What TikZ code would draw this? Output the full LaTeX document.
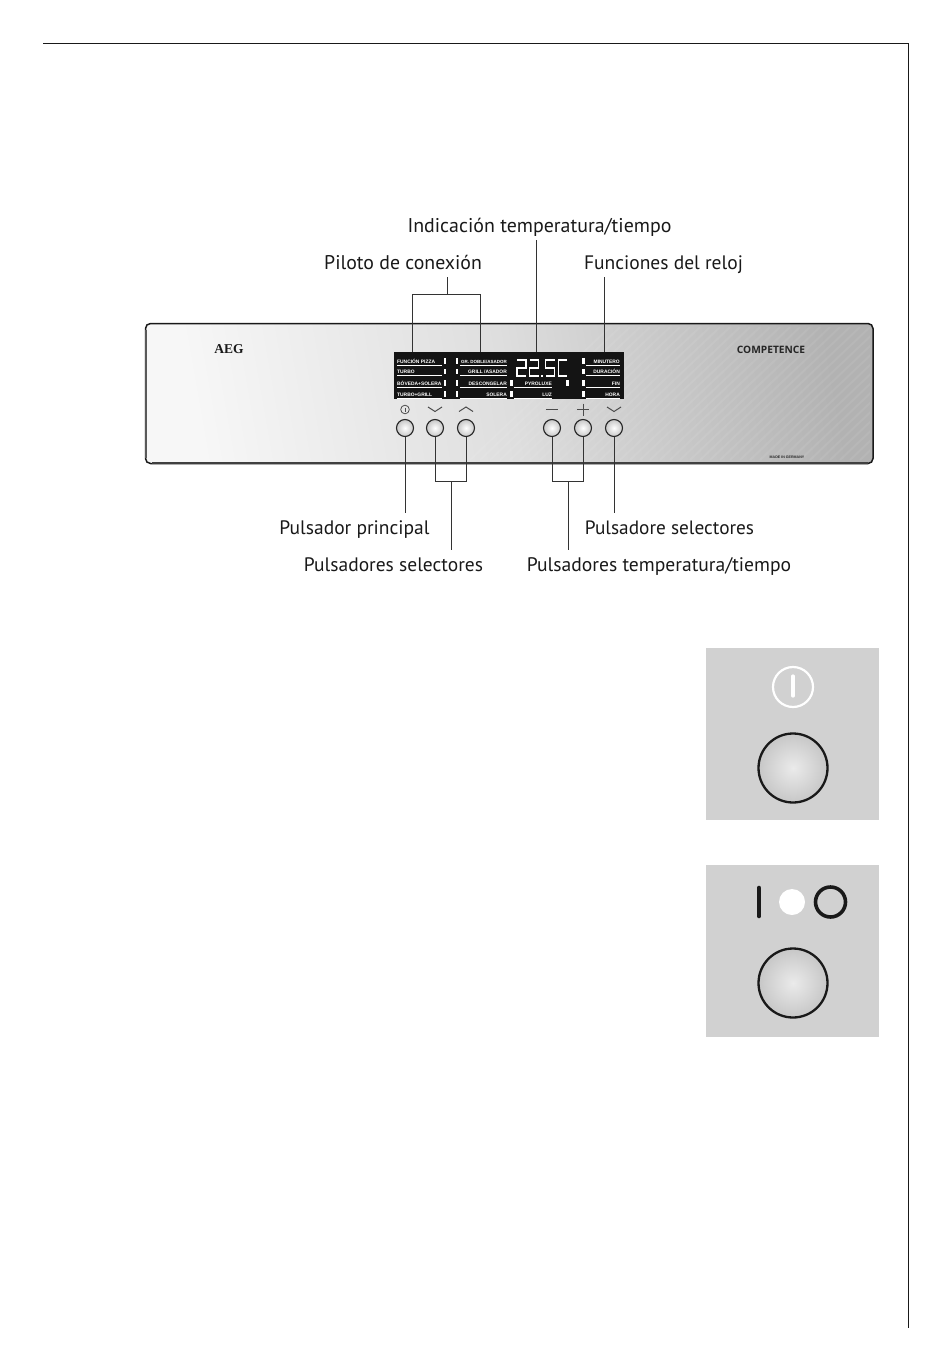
\documentclass[tikz,border=0pt]{standalone}
\usepackage{fontspec}
\setmainfont{PT Sans}
\newfontfamily\panelfont{Liberation Sans}
\newfontfamily\logofont{Liberation Serif}
\newfontfamily\brandfont{Open Sans}
\begin{document}
\begin{tikzpicture}[x=1pt,y=-1pt,
  lead/.style={line width=0.95pt,draw=black!80},
  lbl/.style={font=\fontsize{19.5}{22}\selectfont,text=black!90,inner sep=0pt,anchor=base},
  pbtn/.style={circle,draw=black!85,line width=1.15pt,minimum size=17pt,inner sep=0pt,inner color=white,outer color=black!22},
  bigbtn/.style={circle,draw=black!90,line width=2.3pt,minimum size=69pt,inner sep=0pt,inner color=white!92!black,outer color=black!22},
  disp/.style={font=\panelfont\bfseries\fontsize{4.9}{6}\selectfont,text=white,inner sep=0pt,anchor=base},
  uline/.style={draw=white,line width=0.8pt},
  led/.style={fill=white,draw=none},
  seg/.style={draw=white,line width=1.8pt,line join=miter},
  sym/.style={draw=black!70,line width=1pt},
  tile/.style={fill=black!18,draw=none}]
\useasboundingbox (0,0) rectangle (950,1372);
% page frame
\coordinate (fa) at (43,44); \coordinate (fb) at (908,44); \coordinate (fc) at (908,1328);
\draw[line width=1pt,black!90] (fa) -- (fb) -- (fc);
% panel
\path[left color=white!97!black,right color=black!30,middle color=black!13,rounded corners=5pt,shading angle=100]
  (146,324) rectangle (873,464);
\begin{scope}
 \clip (150,327) rectangle (870,460);
 \foreach \i in {0,...,40}{
   \draw[white,opacity=0.07,line width=2pt] (470+\i*10,460) -- (610+\i*10,327);
 }
\end{scope}
\draw[black!90,line width=1.5pt,rounded corners=5pt] (145.5,323.5) rectangle (873,463.5);
\draw[black!65,line width=2.4pt] (146,330) -- (146,458);
\draw[black!75,line width=1.8pt] (152,463) -- (868,463);
\node[font=\logofont\bfseries\fontsize{13.5}{14}\selectfont,text=black!90,inner sep=0pt] (aeg) at (229,349) {AEG};
\node[font=\brandfont\fontsize{10.2}{12}\selectfont,text=black!85,inner sep=0pt] (comp) at (771,349.5) {\textbf{COMPETENCE}};
\node[font=\panelfont\bfseries\fontsize{3.6}{4}\selectfont,text=black!85,inner sep=0pt] (made) at (787,457) {MADE IN GERMANY};
% display
\fill[black!92] (394,352) rectangle (624,399);
\foreach \y/\t in {363/FUNCIÓN PIZZA,373.5/TURBO,385/BÓVEDA+SOLERA,396/TURBO+GRILL}{
  \node[disp,anchor=base west] at (397,\y) {\t};
  \draw[uline] (397,\y+2) -- (442,\y+2);
  \fill[led] (443.5,\y-5) rectangle (446,\y+0.5);
}
\foreach \y/\t in {363/{\fontsize{4.5}{6}\selectfont GR. DOBLE/ASADOR},373.5/{GRILL /ASADOR},385/DESCONGELAR,396/SOLERA}{
  \node[disp,anchor=base east] at (507,\y) {\t};
  \draw[uline] (460,\y+2) -- (507,\y+2);
  \fill[led] (455.5,\y-5) rectangle (458,\y+0.5);
}
\foreach \y/\t in {385/PYROLUXE,396/LUZ}{
  \node[disp,anchor=base east] at (552,\y) {\t};
  \draw[uline] (514,\y+2) -- (552,\y+2);
  \fill[led] (510,\y-5) rectangle (512.5,\y+0.5);
}
\fill[led] (566,380) rectangle (568.5,385.5);
\foreach \y/\t in {363/MINUTERO,373.5/DURACIÓN,385/FIN,396/HORA}{
  \node[disp,anchor=base east] at (620,\y) {\t};
  \draw[uline] (586,\y+2) -- (620,\y+2);
  \fill[led] (582,\y-5) rectangle (584.5,\y+0.5);
}
% digits
\draw[seg] (517,360) -- (526,360) -- (526,368) -- (517,368) -- (517,376) -- (526,376);
\draw[seg] (529.5,360) -- (538.5,360) -- (538.5,368) -- (529.5,368) -- (529.5,376) -- (538.5,376);
\fill[white] (540.5,375) rectangle (542.5,377);
\draw[seg] (554.5,360) -- (545.5,360) -- (545.5,368) -- (554.5,368) -- (554.5,376) -- (545.5,376);
\draw[seg] (567,360) -- (558.5,360) -- (558.5,376) -- (567,376);
% buttons
\node[pbtn] (b1) at (405,428) {};
\node[pbtn] (b2) at (435,428) {};
\node[pbtn] (b3) at (466,428) {};
\node[pbtn] (b4) at (552,428) {};
\node[pbtn] (b5) at (583,428) {};
\node[pbtn] (b6) at (614,428) {};
% button symbols
\draw[sym,line width=0.8pt] (405,409.5) circle (4.3);
\draw[sym,line width=0.8pt] (405,407.5) -- (405,411.5);
\draw[sym] (428,407) -- (435,411.5) -- (442,407);
\draw[sym] (459,411.5) -- (466,407) -- (473,411.5);
\draw[sym] (546,409.5) -- (558,409.5);
\draw[sym] (577,409.5) -- (589,409.5);
\draw[sym] (583,403.5) -- (583,415.5);
\draw[sym] (607,407) -- (614,411.5) -- (621,407);
% top labels and leaders
\node[lbl,font=\fontsize{19.8}{22}\selectfont] (piloto) at (403,269.5) {Piloto de conexión};
\node[lbl,font=\fontsize{19.9}{22}\selectfont] (indic) at (539.5,233) {Indicación temperatura/tiempo};
\node[lbl] (func) at (663.5,269.5) {Funciones del reloj};
\coordinate (pl) at (412,294); \coordinate (pr) at (480,294); \coordinate (pm) at (447,294);
\coordinate (dl) at (412,352); \coordinate (dr) at (480,352); \coordinate (di) at (536,352); \coordinate (df) at (604,352);
\draw[lead] (dl) -- (pl) -- (pr) -- (dr);
\draw[lead] (pm) -- (447,277);
\draw[lead] (di) -- (536,240);
\draw[lead] (df) -- (604,277);
% bottom labels and leaders
\node[lbl] (princ) at (354.5,534) {Pulsador principal};
\node[lbl] (sel1) at (393.5,571) {Pulsadores selectores};
\node[lbl,font=\fontsize{19.3}{22}\selectfont] (sel2) at (669.5,534) {Pulsadore selectores};
\node[lbl,font=\fontsize{19.6}{22}\selectfont] (temp) at (659,571) {Pulsadores temperatura/tiempo};
\draw[lead] (b1) -- (405,513);
\draw[lead] (b2) -- (435,481) -- (466,481) -- (b3);
\draw[lead] (451,481) -- (451,550);
\draw[lead] (b4) -- (552,481) -- (583,481) -- (b5);
\draw[lead] (568,481) -- (568,550);
\draw[lead] (b6) -- (614,513);
% tiles
\fill[tile] (706,648) rectangle (879,820);
\node[bigbtn] (big1) at (793,768) {};
\draw[white,line width=2.2pt] (793,687) circle (20);
\draw[white,line width=3.2pt,line cap=round] (793,676) -- (793,696);
\fill[tile] (706,865) rectangle (879,1037);
\node[bigbtn] (big2) at (793,983) {};
\draw[black!90,line width=4.6pt,line cap=round] (759,888) -- (759,916);
\fill[white] (792,902) circle (13);
\draw[black!90,line width=3.6pt] (830.5,902) circle (15);
\end{tikzpicture}
\end{document}
